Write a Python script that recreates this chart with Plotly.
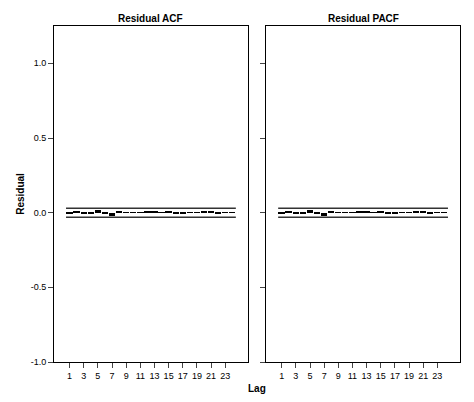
import plotly.graph_objects as go
from plotly.subplots import make_subplots

lags = list(range(1, 25))
acf = [-0.005, 0.006, -0.003, -0.005, 0.02, -0.006, -0.025, 0.008, 0.002, 0.001, 0.002, 0.006,
       0.006, 0.001, 0.01, -0.01, -0.01, 0.001, 0.001, 0.006, 0.006, -0.003, 0.004, 0.002]
pacf = [-0.005, 0.006, -0.003, -0.005, 0.02, -0.006, -0.025, 0.008, 0.002, 0.001, 0.002, 0.006,
        0.006, 0.001, 0.01, -0.011, -0.011, 0.001, 0.001, 0.006, 0.006, -0.004, 0.004, 0.002]
conf = 0.03
tick_lags = list(range(1, 25, 2))

fig = make_subplots(rows=1, cols=2, shared_yaxes=True, horizontal_spacing=0.045,
                    subplot_titles=("<b>Residual ACF</b>", "<b>Residual PACF</b>"))
for i, vals in enumerate([acf, pacf], start=1):
    fig.add_trace(go.Bar(x=lags, y=vals, width=0.9, marker=dict(color="black", line=dict(width=0))),
                  row=1, col=i)
    for c in (conf, -conf):
        fig.add_trace(go.Scatter(x=[0.5, 24.5], y=[c, c], mode="lines",
                                 line=dict(color="#333", width=1.5)), row=1, col=i)
    fig.update_xaxes(range=[-1.2, 26.2], tickvals=tick_lags, ticks="outside", ticklen=5,
                     showgrid=False, showline=True, linecolor="black", mirror=True,
                     zeroline=False, row=1, col=i)
    fig.update_yaxes(range=[-1, 1.25], tickvals=[-1, -0.5, 0, 0.5, 1],
                     ticktext=["-1.0", "-0.5", "0.0", "0.5", "1.0"],
                     ticks="outside", ticklen=5, showgrid=False, showline=True,
                     linecolor="black", mirror=True, zeroline=False, row=1, col=i)

fig.update_yaxes(title_text="<b>Residual</b>", title_font=dict(size=10), title_standoff=4, row=1, col=1)
fig.add_annotation(text="<b>Lag</b>", x=0.5, y=-0.1, xref="paper", yref="paper", showarrow=False,
                   font=dict(size=10, family="Arial", color="black"))
for a in fig.layout.annotations[:2]:
    a.font = dict(size=10, family="Arial", color="black")
    a.y = 1.0
    a.yanchor = "bottom"
fig.add_annotation(text="<b>GSRresidual - Model_1</b>", textangle=90, x=1.01, xanchor="left",
                   y=0.62, xref="paper", yref="paper", showarrow=False,
                   font=dict(size=10, family="Arial", color="black"))
fig.update_layout(width=474, height=402, showlegend=False, plot_bgcolor="white",
                  paper_bgcolor="white", margin=dict(l=42, r=22, t=18, b=48),
                  font=dict(family="Arial", size=9, color="black"), bargap=0)
fig.write_html("out.html")
